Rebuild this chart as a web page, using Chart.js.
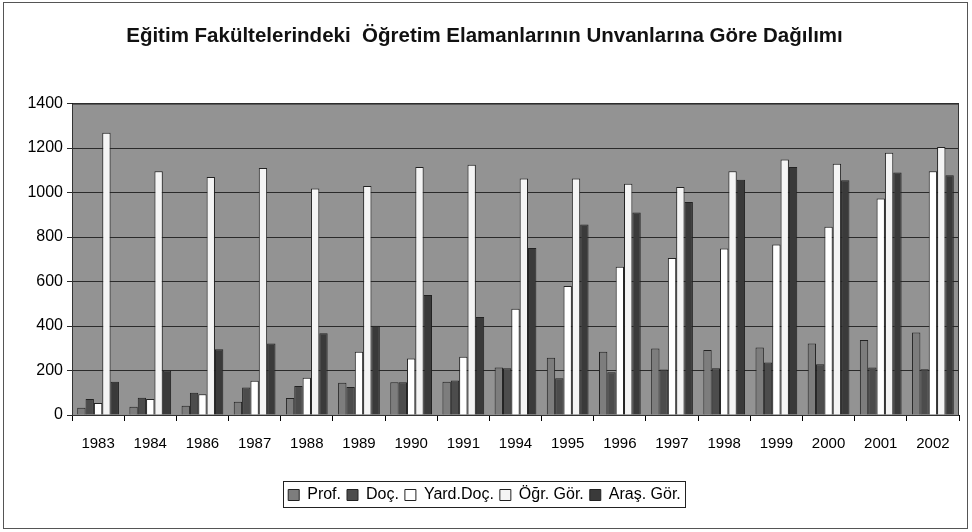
<!DOCTYPE html>
<html>
<head>
<meta charset="utf-8">
<script src="https://cdn.jsdelivr.net/npm/chart.js@4.4.1/dist/chart.umd.min.js"></script>
<style>
  html, body { margin: 0; padding: 0; background: #fff; }
</style>
</head>
<body>
<canvas id="grafik" width="972" height="532"></canvas>
<script>
// yillar ve unvanlara gore ogretim elemani sayilari
const yillar = ['1983', '1984', '1986', '1987', '1988', '1989', '1990', '1991', '1994',
  '1995', '1996', '1997', '1998', '1999', '2000', '2001', '2002'];
const prof = [33, 37, 42, 60, 76, 145, 147, 150, 213, 257, 284, 299, 292, 304, 322, 337, 371];
const doc = [72, 78, 100, 124, 130, 126, 147, 155, 210, 165, 192, 205, 210, 236, 228, 214, 206];
const yardDoc = [54, 72, 93, 154, 168, 284, 254, 262, 478, 580, 666, 706, 748, 766, 846, 973, 1096];
const ogrGor = [1269, 1096, 1070, 1111, 1018, 1030, 1115, 1125, 1063, 1063, 1040, 1025, 1096, 1149, 1130, 1179, 1205];
const arasGor = [150, 200, 296, 322, 367, 401, 539, 441, 751, 856, 910, 958, 1058, 1115, 1055, 1090, 1078];
const yEksen = [0, 200, 400, 600, 800, 1000, 1200, 1400];

const yazi = "'Liberation Sans', Arial, sans-serif";

const cerceve = {
  id: 'cerceve',
  beforeDraw(chart) {
    const { ctx, chartArea: a } = chart;
    ctx.save();
    ctx.fillStyle = '#939393';
    ctx.fillRect(a.left, a.top, a.right - a.left, a.bottom - a.top);
    ctx.restore();
  },
  afterDraw(chart) {
    const { ctx, chartArea: a, legend } = chart;
    ctx.save();
    ctx.strokeStyle = '#333';
    ctx.lineWidth = 1;
    ctx.strokeRect(a.left + 0.5, a.top + 0.5, a.right - a.left - 1, a.bottom - a.top);
    // dis cerceve
    ctx.strokeStyle = '#555';
    ctx.strokeRect(3.5, 2.5, 964, 526);
    // lejant kutusu
    const kutular = legend.legendHitBoxes;
    if (kutular && kutular.length) {
      let sol = Infinity, sag = -Infinity, ust = Infinity, alt = -Infinity;
      kutular.forEach(k => {
        sol = Math.min(sol, k.left);
        sag = Math.max(sag, k.left + k.width);
        ust = Math.min(ust, k.top);
        alt = Math.max(alt, k.top + k.height);
      });
      ctx.strokeStyle = '#222';
      ctx.strokeRect(Math.round(sol) - 4.5, Math.round(ust) - 5.5, Math.round(sag - sol) + 9, Math.round(alt - ust) + 10);
    }
    ctx.restore();
  }
};

const ctx = document.getElementById('grafik');
new Chart(ctx, {
  type: 'bar',
  data: {
    labels: yillar,
    datasets: [
      { label: 'Prof.', data: prof, backgroundColor: '#7d7d7d' },
      { label: 'Doç.', data: doc, backgroundColor: '#4c4c4c' },
      { label: 'Yard.Doç.', data: yardDoc, backgroundColor: '#ffffff' },
      { label: 'Öğr. Gör.', data: ogrGor, backgroundColor: '#f4f4f4' },
      { label: 'Araş. Gör.', data: arasGor, backgroundColor: '#3a3a3a' }
    ].map(d => Object.assign(d, {
      borderColor: '#222',
      borderWidth: 1,
      barPercentage: 1.0,
      categoryPercentage: 0.8
    }))
  },
  options: {
    responsive: false,
    animation: false,
    layout: { padding: { left: 10, right: 13, top: 0, bottom: 19 } },
    plugins: {
      title: {
        display: true,
        text: 'Eğitim Fakültelerindeki  Öğretim Elamanlarının Unvanlarına Göre Dağılımı',
        color: '#111',
        font: { family: yazi, size: 20.5, weight: 'bold' },
        padding: { top: 24, bottom: 55 }
      },
      legend: {
        position: 'bottom',
        labels: {
          color: '#000',
          font: { family: yazi, size: 16 },
          boxWidth: 11,
          boxHeight: 11,
          padding: 6
        }
      },
      tooltip: { enabled: false }
    },
    scales: {
      x: {
        grid: { drawOnChartArea: false, drawTicks: true, tickLength: 6, offset: true, color: '#000' },
        border: { color: '#000' },
        ticks: { color: '#000', font: { family: yazi, size: 15 }, padding: 14, maxRotation: 0 },
        afterFit(scale) { scale.height = 66; }
      },
      y: {
        min: 0,
        max: 1400,
        afterBuildTicks(scale) { scale.ticks = yEksen.map(v => ({ value: v })); },
        grid: { color: '#2a2a2a', tickLength: 5 },
        border: { color: '#000' },
        ticks: { color: '#000', font: { family: yazi, size: 16 }, padding: 4, callback: v => String(v) },
        afterFit(scale) { scale.width = 62; }
      }
    }
  },
  plugins: [cerceve]
});
</script>
</body>
</html>
